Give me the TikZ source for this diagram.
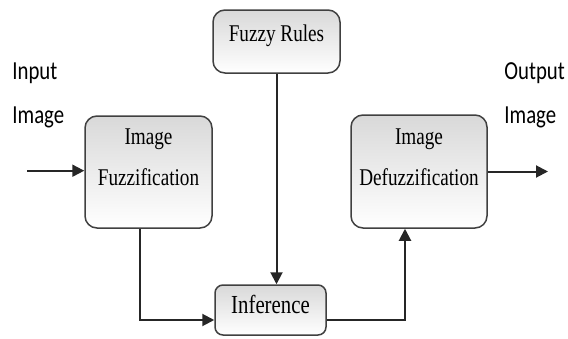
\documentclass[tikz,border=0pt]{standalone}
\usepackage{fontspec}
\setmainfont[FakeStretch=0.8]{Liberation Serif}
\newfontfamily\lblfont[FakeStretch=0.8]{Carlito}
\usetikzlibrary{arrows.meta,fit}

\begin{document}
\begin{tikzpicture}[x=0.5pt, y=-0.5pt, >={Triangle[length=6pt,width=6pt]},
  blk/.style={draw=black!75, line width=0.75pt, rounded corners=6pt,
              top color=black!15, bottom color=white, inner sep=0pt},
  blktxt/.style={font=\fontsize{12}{20.5}\selectfont, align=center, inner sep=0pt},
  lbl/.style={font=\lblfont\fontsize{13}{22}\selectfont, align=left, inner sep=0pt},
  flow/.style={->, draw=black!85, line width=1pt}]
  \useasboundingbox (0,0) rectangle (568,338);
  % blocks
  \node[blk, fit={(213,10) (340,73)}] (rules) {};
  \node[blk, fit={(85,116) (212,228)}] (fuzz) {};
  \node[blk, fit={(351,115) (487,228)}] (defuzz) {};
  \node[blk, rounded corners=4pt, fit={(215,285) (326,335)}] (infer) {};
  \node[blktxt, anchor=base] (rulestxt) at (276.5,41.7) {Fuzzy Rules};
  \node[blktxt, anchor=base] (fuzztxt) at (148.5,185.5) {Image\\Fuzzification};
  \node[blktxt, anchor=base] (defuzztxt) at (419,185.5) {Image\\Defuzzification};
  \node[blktxt, font=\fontsize{13}{16}\selectfont, anchor=base] (infertxt) at (270.5,313) {Inference};
  % side labels
  \node[lbl, anchor=base west] (inlbl) at (12,123) {Input\\Image};
  \node[lbl, anchor=base west] (outlbl) at (504,123) {Output\\Image};
  % connectors
  \coordinate (inpt) at (27,170.7);
  \coordinate (outpt) at (548,170.7);
  \draw[flow] (inpt) -- (inpt -| fuzz.west);
  \draw[flow] (rules.south) -- (rules.south |- infer.north);
  \draw[flow] ([xshift=-4.25pt]fuzz.south) |- ([yshift=-5pt]infer.west);
  \draw[flow] ([yshift=-5pt]infer.east) -| ([xshift=-7pt]defuzz.south);
  \draw[flow] (defuzz.east) -- (defuzz.east -| outpt);
\end{tikzpicture}
\end{document}
